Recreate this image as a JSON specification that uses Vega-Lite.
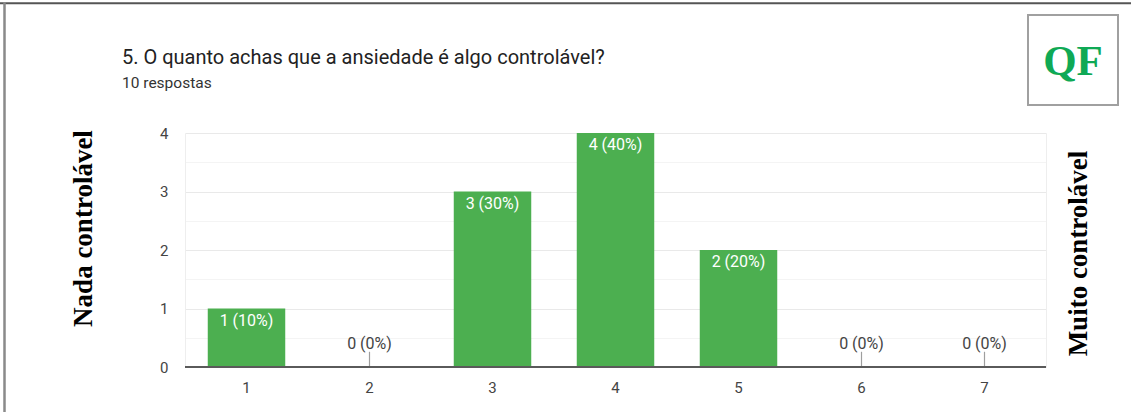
{
  "$schema": "https://vega.github.io/schema/vega-lite/v6.json",
  "width": 861,
  "height": 234,
  "autosize": {"type": "none"},
  "padding": {"left": 185, "top": 133, "right": 85, "bottom": 45},
  "background": "white",
  "config": {"view": {"stroke": null}, "font": "Roboto"},
  "title": {
    "text": "5. O quanto achas que a ansiedade é algo controlável?",
    "subtitle": "10 respostas",
    "anchor": "start",
    "frame": "group",
    "dx": -63,
    "offset": -91,
    "font": "Roboto",
    "fontSize": 20,
    "fontWeight": "normal",
    "color": "#222222",
    "subtitleFont": "Roboto",
    "subtitleFontSize": 15.5,
    "subtitleColor": "#333333",
    "subtitlePadding": 8
  },
  "data": {
    "values": [
      {"opcao": "1", "n": 1, "rotulo": "1 (10%)"},
      {"opcao": "2", "n": 0, "rotulo": "0 (0%)"},
      {"opcao": "3", "n": 3, "rotulo": "3 (30%)"},
      {"opcao": "4", "n": 4, "rotulo": "4 (40%)"},
      {"opcao": "5", "n": 2, "rotulo": "2 (20%)"},
      {"opcao": "6", "n": 0, "rotulo": "0 (0%)"},
      {"opcao": "7", "n": 0, "rotulo": "0 (0%)"}
    ]
  },
  "resolve": {"axis": {"y": "independent"}},
  "layer": [
    {
      "mark": {"type": "bar", "color": "#4caf50"},
      "encoding": {
        "x": {
          "field": "opcao", "type": "nominal",
          "scale": {"domain": ["1","2","3","4","5","6","7"], "paddingInner": 0.37, "paddingOuter": 0.185},
          "axis": {"title": null, "labelAngle": 0, "ticks": false, "domain": false, "grid": false,
                   "labelPadding": 13, "labelFontSize": 15, "labelColor": "#444444", "labelFont": "Roboto"}
        },
        "y": {
          "field": "n", "type": "quantitative",
          "scale": {"domain": [0, 4], "nice": false},
          "axis": {
            "values": [0, 0.5, 1, 1.5, 2, 2.5, 3, 3.5, 4],
            "labelExpr": "datum.value % 1 === 0 ? format(datum.value, 'd') : ''",
            "ticks": false,
            "domain": true, "domainColor": "#eeeeee",
            "labelPadding": 17, "labelFontSize": 15, "labelColor": "#444444", "labelFont": "Roboto",
            "gridColor": {"condition": {"test": "datum.value % 1 !== 0", "value": "#f4f4f4"}, "value": "#e9e9e9"},
            "title": "Nada controlável",
            "titleFont": "Liberation Serif", "titleFontWeight": "bold", "titleFontSize": 27, "titleColor": "#000000",
            "titleX": -102, "titleY": 95, "titleAlign": "center", "titleBaseline": "middle", "titleAngle": -90
          }
        }
      }
    },
    {
      "transform": [{"filter": "datum.n > 0"}],
      "mark": {"type": "text", "color": "white", "fontSize": 16, "font": "Roboto", "baseline": "middle", "dy": 12},
      "encoding": {
        "x": {"field": "opcao", "type": "nominal"},
        "y": {"field": "n", "type": "quantitative", "axis": null},
        "text": {"field": "rotulo"}
      }
    },
    {
      "transform": [{"filter": "datum.n === 0"}],
      "mark": {"type": "rule", "color": "#9e9e9e", "strokeWidth": 1.2},
      "encoding": {
        "x": {"field": "opcao", "type": "nominal"},
        "y": {"datum": 0, "type": "quantitative", "axis": null},
        "y2": {"datum": 0.26}
      }
    },
    {
      "transform": [{"filter": "datum.n === 0"}],
      "mark": {"type": "text", "color": "#444444", "fontSize": 16, "font": "Roboto", "baseline": "middle", "dy": -23},
      "encoding": {
        "x": {"field": "opcao", "type": "nominal"},
        "y": {"field": "n", "type": "quantitative", "axis": null},
        "text": {"field": "rotulo"}
      }
    },
    {
      "mark": {"type": "rule", "color": "#5a5a5a", "strokeWidth": 2},
      "encoding": {
        "y": {
          "datum": 0, "type": "quantitative",
          "axis": {
            "orient": "right", "labels": false, "ticks": false, "domain": true, "domainColor": "#eeeeee", "grid": false,
            "title": "Muito controlável",
            "titleFont": "Liberation Serif", "titleFontWeight": "bold", "titleFontSize": 27, "titleColor": "#000000",
            "titleX": 32, "titleY": 120, "titleAlign": "center", "titleBaseline": "middle", "titleAngle": -90
          }
        }
      }
    },
    {
      "data": {"values": [{"logo": "QF", "opcao": "7", "pos": 5.25}]},
      "mark": {"type": "point", "shape": "square", "filled": false, "stroke": "#a0a0a0", "strokeWidth": 2, "size": 8100, "xOffset": 88.5, "opacity": 1},
      "encoding": {
        "x": {"field": "opcao", "type": "nominal"},
        "y": {"field": "pos", "type": "quantitative", "axis": null}
      }
    },
    {
      "data": {"values": [{"logo": "QF", "opcao": "7", "pos": 5.25}]},
      "mark": {"type": "text", "font": "Liberation Serif", "fontWeight": "bold", "fontSize": 43, "color": "#0fa955", "baseline": "middle", "align": "center", "dx": 88.5, "dy": 2},
      "encoding": {
        "x": {"field": "opcao", "type": "nominal"},
        "y": {"field": "pos", "type": "quantitative", "axis": null},
        "text": {"field": "logo"}
      }
    },
    {
      "data": {"values": [{"opcao": "1", "fim": "7", "pos": 6.22}]},
      "mark": {"type": "rule", "color": "#555555", "strokeWidth": 2, "xOffset": -246.5, "x2Offset": 146.5},
      "encoding": {
        "x": {"field": "opcao", "type": "nominal"},
        "x2": {"field": "fim"},
        "y": {"field": "pos", "type": "quantitative", "axis": null}
      }
    },
    {
      "data": {"values": [{"opcao": "1", "top": 6.24, "bottom": -0.8}]},
      "mark": {"type": "rule", "color": "#8a8a8a", "strokeWidth": 2.5, "xOffset": -242},
      "encoding": {
        "x": {"field": "opcao", "type": "nominal"},
        "y": {"field": "top", "type": "quantitative", "axis": null},
        "y2": {"field": "bottom"}
      }
    }
  ]
}
